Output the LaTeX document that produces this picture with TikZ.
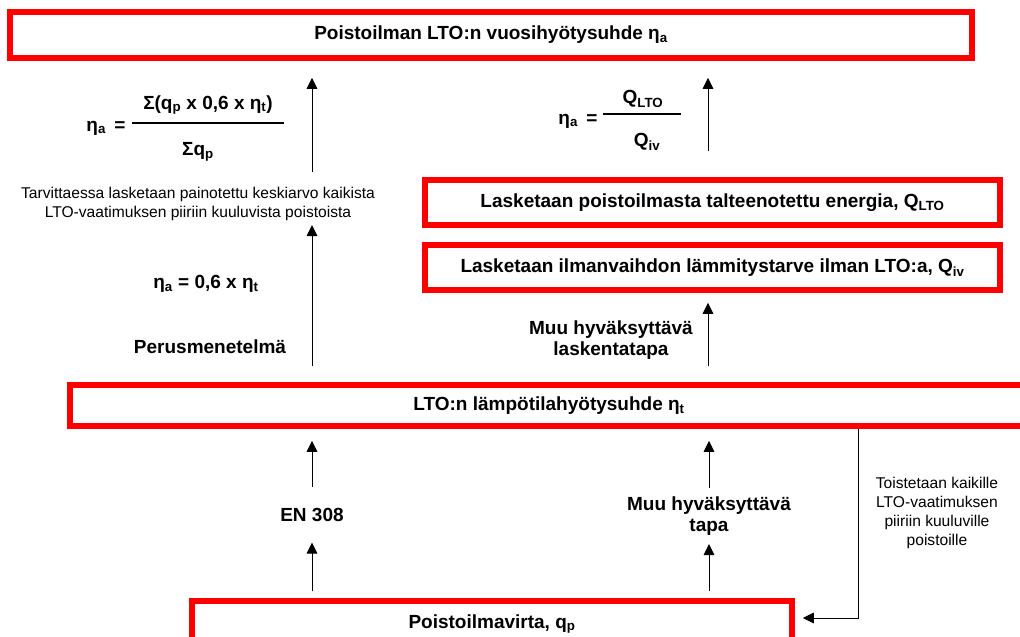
\documentclass[tikz,border=0pt]{standalone}
\usepackage{fontspec}
\setmainfont{Liberation Sans}
\usetikzlibrary{arrows.meta}
\newcommand{\sub}[1]{\textsubscript{#1}}
\tikzset{every picture/.style={line width=1pt},
  redbox/.style={draw={rgb,255:red,255;green,0;blue,0}, line width=5.5pt, inner sep=0pt,
    font=\fontsize{19}{22}\selectfont\bfseries},
  lbl/.style={inner sep=0pt, align=center, font=\fontsize{19}{21.5}\selectfont\bfseries},
  note/.style={inner sep=0pt, align=center, font=\fontsize{15.6}{19}\selectfont},
  arr/.style={-{Triangle[length=11pt,width=10.5pt]}, line width=1pt}}

\begin{document}
\begin{tikzpicture}[x=1pt,y=1pt,yscale=-1,xscale=1]
\useasboundingbox (0,0) rectangle (1020,637);

% Boxes
\draw (491,35) node (vuosi) [redbox, minimum width=962, minimum height=46] {Poistoilman LTO:n vuosihyötysuhde η\sub{a}};
\draw (712.5,202.5) node (lasklto) [redbox, minimum width=575, minimum height=45] {Lasketaan poistoilmasta talteenotettu energia, Q\sub{LTO}};
\draw (712.5,267.5) node (lasqiv) [redbox, minimum width=575, minimum height=45] {Lasketaan ilmanvaihdon lämmitystarve ilman LTO:a, Q\sub{iv}};
\draw (549,405.5) node (lampo) [redbox, minimum width=958, minimum height=41] {LTO:n lämpötilahyötysuhde η\sub{t}};
\draw (492,624) node (qp) [redbox, minimum width=600, minimum height=46] {Poistoilmavirta, q\sub{p}};

% Text Node
\draw (106,128) node (lhsl) [lbl] {η\sub{a} \,=};
\draw (208,105) node (numl) [lbl] {Σ(q\sub{p} x 0,6 x η\sub{t})};
\draw (198,152) node (denl) [lbl] {Σq\sub{p}};
\draw (198,203.5) node (painot) [note, minimum height=34] {Tarvittaessa lasketaan painotettu keskiarvo kaikista\\LTO-vaatimuksen piiriin kuuluvista poistoista};
\draw (206,284) node (perkaava) [lbl] {η\sub{a} = 0,6 x η\sub{t}};
\draw (210,347) node (perus) [lbl] {Perusmenetelmä};
\draw (578,121) node (lhsr) [lbl] {η\sub{a} \,=};
\draw (643,99) node (numr) [lbl] {Q\sub{LTO}};
\draw (647,142) node (denr) [lbl] {Q\sub{iv}};
\draw (611,340) node (muulask) [lbl] {Muu hyväksyttävä\\laskentatapa};
\draw (312,514.5) node (en308) [lbl, minimum height=55] {EN 308};
\draw (709,516) node (muutapa) [lbl, minimum height=55] {Muu hyväksyttävä\\tapa};
\draw (937,513) node (toist) [note] {Toistetaan kaikille\\LTO-vaatimuksen\\piiriin kuuluville\\poistoille};

% Fraction bars
\draw [line width=2pt] (132,123) -- (284,123);
\draw [line width=2pt] (603,114) -- (681,114);

\coordinate (lcol) at (312,0);
\coordinate (rcol) at (708,0);
\coordinate (fbturn) at (858,618);

%Straight Lines
\draw [arr, shorten <=7pt] (qp.north -| en308) -- (en308.south);
\draw [arr, shorten >=12pt] (en308.north) -- (en308.north |- lampo.south);
\draw [arr, shorten <=7pt] (qp.north -| muutapa) -- (muutapa.south);
\draw [arr, shorten >=12pt] (muutapa.north) -- (muutapa.north |- lampo.south);
\draw [arr, shorten <=16pt, shorten >=4pt] (lampo.north -| lcol) -- (painot.south -| lcol);
\draw [arr, shorten <=14pt, shorten >=17pt] (painot.north -| lcol) -- (vuosi.south -| lcol);
\draw [arr, shorten <=16pt, shorten >=10pt] (lampo.north -| rcol) -- (lasqiv.south -| rcol);
\draw [arr, shorten <=26pt, shorten >=17pt] (lasklto.north -| rcol) -- (vuosi.south -| rcol);
\draw [arr, shorten >=8pt] (lampo.south -| fbturn) -- (fbturn) -- (fbturn -| qp.east);

\end{tikzpicture}
\end{document}
